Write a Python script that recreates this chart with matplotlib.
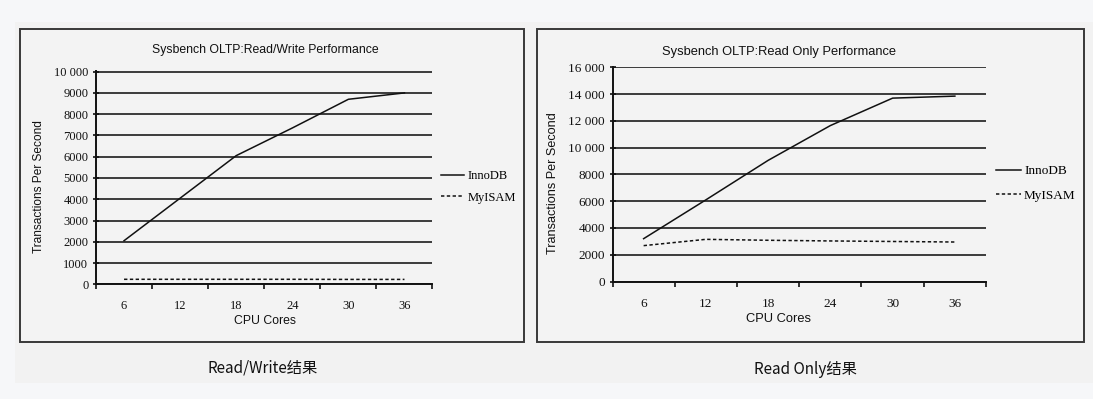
import matplotlib.pyplot as plt
from matplotlib.patches import Rectangle
from matplotlib.ticker import FuncFormatter

# values (CPU cores -> transactions per second)
cores = [6, 12, 18, 24, 30, 36]
rw_innodb = [2050, 4050, 6050, 7350, 8700, 9000]
rw_myisam = [235, 235, 235, 235, 230, 230]
ro_innodb = [3200, 6100, 9050, 11650, 13700, 13850]
ro_myisam = [2680, 3150, 3080, 3030, 2990, 2950]

rw_title = 'Sysbench OLTP:Read/Write Performance'
ro_title = 'Sysbench OLTP:Read Only Performance'
series_names = ['InnoDB', 'MyISAM']
x_label = 'CPU Cores'
y_label = 'Transactions Per Second'
captions = ['Read/Write结果', 'Read Only结果']

W, H = 1093, 399
SANS = 'Liberation Sans'
SERIF = 'Liberation Serif'
CJK = ['Noto Sans CJK SC', 'DejaVu Sans']
INK = '#111111'

fig = plt.figure(figsize=(W / 100, H / 100), dpi=100)
fig.patch.set_facecolor('#f6f7f9')


def fxy(x, y):
    return x / W, 1 - y / H


def rect(x0, y0, x1, y1, **kw):
    fig.patches.append(Rectangle((x0 / W, 1 - y1 / H), (x1 - x0) / W, (y1 - y0) / H,
                                 transform=fig.transFigure, zorder=-5, **kw))


def ytick_fmt(v, p):
    v = int(round(v))
    return f'{v:,}'.replace(',', ' ') if v >= 10000 else str(v)


rect(15, 22, 1093, 383, facecolor='#f2f2f2', edgecolor='none')
rect(20, 29, 524, 342, facecolor='#f3f3f3', edgecolor='#383838', lw=1.4)
rect(537, 29, 1084, 342, facecolor='#f3f3f3', edgecolor='#383838', lw=1.4)


def panel(box, ymax, ystep, inno, myisam, title, s, title_xy, xlab_xy, ylab_xy, leg_xy, hl, lsp):
    x0, y0, x1, y1 = box
    ax = fig.add_axes([x0 / W, 1 - y1 / H, (x1 - x0) / W, (y1 - y0) / H])
    ax.patch.set_visible(False)
    pos = list(range(len(cores)))
    ax.plot(pos, inno, color=INK, lw=1.1, label=series_names[0])
    ax.plot(pos, myisam, color=INK, lw=1.1, ls=(0, (2.2, 1.6)), label=series_names[1])
    ax.set_xlim(-0.5, len(cores) - 0.5)
    ax.set_ylim(0, ymax * 1.003)
    ax.set_yticks(range(0, ymax + 1, ystep))
    ax.yaxis.set_major_formatter(FuncFormatter(ytick_fmt))
    ax.set_xticks(pos, [str(c) for c in cores])
    ax.set_xticks([i - 0.5 for i in range(len(cores) + 1)], minor=True)
    ax.tick_params(axis='x', which='major', length=0, pad=11 * s)
    ax.tick_params(axis='x', which='minor', length=3.5, width=1.2, color=INK, direction='out')
    ax.tick_params(axis='y', length=5, width=1.2, color=INK, direction='inout', pad=3)
    for t in ax.get_xticklabels() + ax.get_yticklabels():
        t.set_fontfamily(SERIF)
        t.set_fontsize(9 * s)
        t.set_color(INK)
    for side in ['top', 'right']:
        ax.spines[side].set_visible(False)
    for side in ['left', 'bottom']:
        ax.spines[side].set_linewidth(1.4)
        ax.spines[side].set_color(INK)
    ax.grid(axis='y', color='#1c1c1c', lw=1.2)
    ax.set_axisbelow(True)

    fig.text(*fxy(*title_xy), title, family=SANS, size=8.8 * s, color=INK, ha='center', va='center')
    fig.text(*fxy(*xlab_xy), x_label, family=SANS, size=8.8 * s, color=INK, ha='center', va='center')
    fig.text(*fxy(*ylab_xy), y_label, family=SANS, size=8.6 * s, color=INK, ha='center',
             va='center', rotation=90)
    fs = 9 * s
    ax.legend(loc='center left', bbox_to_anchor=fxy(*leg_xy), bbox_transform=fig.transFigure,
              frameon=False, borderpad=0, borderaxespad=0, handlelength=hl / (fs * 100 / 72),
              handletextpad=0.25, labelspacing=lsp,
              prop={'family': SERIF, 'size': fs})
    return ax


panel((96, 71, 432.5, 284.3), 10000, 1000, rw_innodb, rw_myisam, rw_title, 1.0,
      (265, 50), (264.6, 321), (39, 187), (441, 187), 23.3, 0.74)
panel((612.5, 66.7, 986, 281.5), 16000, 2000, ro_innodb, ro_myisam, ro_title, 1.06,
      (779, 52), (778.8, 319), (553.4, 183.3), (995.7, 183.5), 25, 0.92)

fig.text(*fxy(263, 368), captions[0], family=CJK, size=11, color='#111111', ha='center', va='center')
fig.text(*fxy(805, 370), captions[1], family=CJK, size=11, color='#111111', ha='center', va='center')

fig.savefig('out.png', dpi=100, facecolor=fig.get_facecolor())
